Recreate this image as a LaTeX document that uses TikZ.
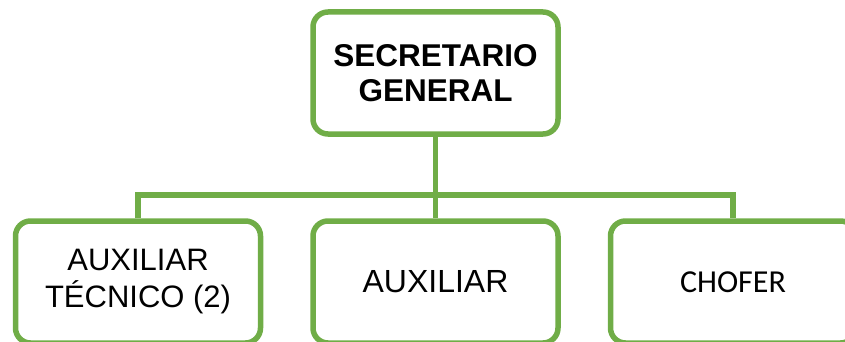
\documentclass[tikz,border=0pt]{standalone}
\usepackage{fontspec}
\setmainfont{Liberation Sans}
\newfontfamily\calibrifont{Carlito}
\definecolor{orggreen}{HTML}{70AD47}
\tikzset{
	cargo/.style={draw=orggreen, line width=5.5pt, rounded corners=15pt, fill=white,
		minimum width=245pt, minimum height=122pt, align=center, inner sep=0pt,
		font=\fontsize{32}{37}\selectfont},
	enlace/.style={draw=orggreen, line width=5.5pt},
}

\begin{document}
\begin{tikzpicture}[x=1pt, y=1pt]
			%%%%% START %%%%%
			\useasboundingbox (0, 0) rectangle (845, 341);
			
			\coordinate (barra) at (0, 146);
			
			\node[cargo, font=\bfseries\fontsize{31.5}{35}\selectfont] (secretario) at (435.5, 268) {SECRETARIO\\GENERAL};
			
			\node[cargo, font=\fontsize{31}{37}\selectfont] (tecnico) at (138, 59) {AUXILIAR\\TÉCNICO (2)};
			\node[cargo] (auxiliar) at (435.5, 59) {AUXILIAR};
			\node[cargo, font=\calibrifont\fontsize{32}{37}\selectfont] (chofer) at (733, 59) {CHOFER};
			
			\draw[enlace] (secretario.south) -- (secretario.south |- barra);
			\draw[enlace] (tecnico.north) |- (chofer.north |- barra) -- (chofer.north);
			\draw[enlace] (auxiliar.north) -- (auxiliar.north |- barra);
			
			%%%%% END %%%%%
\end{tikzpicture}
\end{document}
